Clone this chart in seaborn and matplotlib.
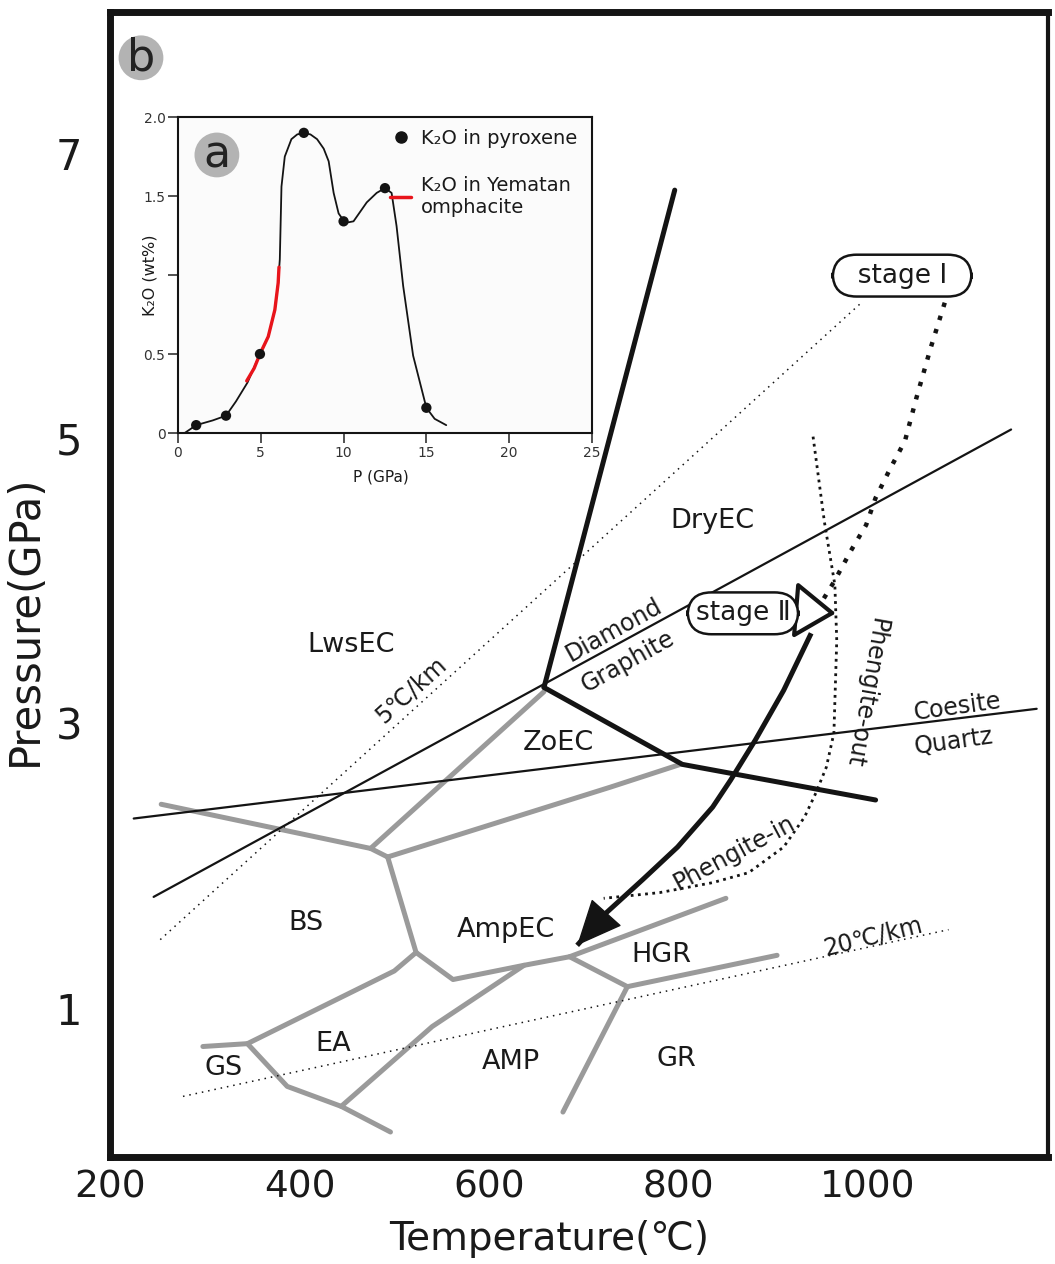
import matplotlib
matplotlib.use("Agg")
import matplotlib.pyplot as plt
import seaborn as sns
from matplotlib.lines import Line2D

# ---------------- inset (a): K2O in pyroxene vs pressure ----------------
dot_p = [1.1, 2.9, 4.95, 7.6, 10.0, 12.5, 15.0]
dot_k2o = [0.05, 0.11, 0.50, 1.90, 1.34, 1.55, 0.16]

curve_p = [0.4, 1.1, 2.1, 2.9, 3.5, 4.2, 4.95, 5.45, 5.85, 6.05, 6.15, 6.25, 6.45,
           6.85, 7.2, 7.6, 8.0, 8.4, 8.8, 9.1, 9.4, 9.7, 10.1, 10.6, 11.0, 11.4, 12.0,
           12.5, 12.9, 13.2, 13.6, 14.2, 15.0, 15.5, 16.2]
curve_k2o = [0.0, 0.05, 0.08, 0.11, 0.20, 0.32, 0.50, 0.61, 0.78, 0.95, 1.10, 1.56, 1.75,
             1.86, 1.89, 1.90, 1.89, 1.86, 1.80, 1.72, 1.52, 1.39, 1.33, 1.34, 1.40, 1.46, 1.52,
             1.55, 1.52, 1.31, 0.93, 0.49, 0.16, 0.09, 0.05]

red_p = [4.15, 4.6, 4.95, 5.45, 5.85, 6.05, 6.1]
red_k2o = [0.33, 0.41, 0.50, 0.61, 0.78, 0.95, 1.05]

# ---------------- main (b): P-T boundaries (T in C, P in GPa) ----------------
coesite_T = [225, 1178]
coesite_P = [2.33, 3.10]
diamond_T = [246, 1151]
diamond_P = [1.78, 5.06]

thick_up_T = [658, 796]
thick_up_P = [3.25, 6.74]
thick_down_T = [658, 804, 1008]
thick_down_P = [3.25, 2.71, 2.46]

# facies boundaries (gray)
bs_top_T = [254, 475, 493]
bs_top_P = [2.43, 2.12, 2.06]
lws_zo_T = [475, 658]
lws_zo_P = [2.12, 3.22]
zo_amp_T = [493, 728, 802]
zo_amp_P = [2.06, 2.55, 2.71]
bs_amp_T = [493, 523]
bs_amp_P = [2.06, 1.39]
bs_ea_T = [523, 500, 345, 298]
bs_ea_P = [1.39, 1.26, 0.75, 0.73]
ampec_low_T = [523, 562, 637, 685, 850]
ampec_low_P = [1.39, 1.20, 1.30, 1.36, 1.77]
gs_low_T = [345, 387, 444, 496]
gs_low_P = [0.75, 0.45, 0.31, 0.13]
ea_amp_T = [637, 540, 444]
ea_amp_P = [1.30, 0.87, 0.31]
hgr_low_T = [685, 746, 904]
hgr_low_P = [1.36, 1.15, 1.37]
amp_gr_T = [746, 678]
amp_gr_P = [1.15, 0.27]

# geotherms and phengite curve (dotted)
geo5_T = [253, 993]
geo5_P = [1.48, 5.95]
geo20_T = [277, 1085]
geo20_P = [0.38, 1.55]
phengite_T = [942, 954, 965, 967, 964, 956, 945, 933, 911, 874, 836, 780, 721]
phengite_P = [5.01, 4.41, 3.97, 3.58, 2.93, 2.69, 2.51, 2.34, 2.13, 1.95, 1.88, 1.81, 1.77]

# P-T path
stage1_T = [1081, 1066, 1051, 1039, 1023, 1008, 998, 982, 964, 952]
stage1_P = [5.95, 5.63, 5.28, 4.98, 4.78, 4.58, 4.39, 4.21, 3.99, 3.86]
retro_T = [940, 911, 881, 855, 836, 799, 762, 724, 693]
retro_P = [3.63, 3.23, 2.88, 2.60, 2.41, 2.13, 1.90, 1.67, 1.44]
open_head_T = [929, 966]
open_head_P = [3.79, 3.77]

# labels
region_names = ["DryEC", "LwsEC", "ZoEC", "BS", "AmpEC", "HGR", "EA", "GS", "AMP", "GR"]
region_T = [836, 454, 673, 407, 618, 782, 436, 320, 623, 798]
region_P = [4.42, 3.55, 2.86, 1.60, 1.55, 1.37, 0.75, 0.58, 0.62, 0.64]

line_names = ["Diamond", "Graphite", "Coesite", "Quartz", "5℃/km", "20℃/km",
              "Phengite-out", "Phengite-in"]
line_T = [732, 746, 1094, 1090, 517, 1005, 997, 859]
line_P = [3.65, 3.43, 3.11, 2.87, 3.23, 1.50, 3.21, 2.09]
line_rot = [29, 29, 8, 8, 42, 14, -100, 28]

stage_names = ["  stage Ⅰ  ", "stage Ⅱ"]
stage_T = [1036, 868]
stage_P = [6.14, 3.77]

sns.set_theme(style="white")
plt.rcParams["font.family"] = ["DejaVu Sans", "Noto Sans CJK SC"]
plt.rcParams["text.color"] = "#1a1a1a"
plt.rcParams["axes.labelcolor"] = "#1a1a1a"
plt.rcParams["xtick.color"] = "#1a1a1a"
plt.rcParams["ytick.color"] = "#1a1a1a"

fig = plt.figure(figsize=(10.55, 12.64), dpi=100)
ax = fig.add_axes([0.1043, 0.0847, 0.8891, 0.9058])

GRAY = "#9a9a9a"
INK = "#141414"

gray_lines = [(bs_top_T, bs_top_P), (lws_zo_T, lws_zo_P), (zo_amp_T, zo_amp_P),
              (bs_amp_T, bs_amp_P), (bs_ea_T, bs_ea_P), (ampec_low_T, ampec_low_P),
              (gs_low_T, gs_low_P), (ea_amp_T, ea_amp_P), (hgr_low_T, hgr_low_P),
              (amp_gr_T, amp_gr_P)]
for T, P in gray_lines:
    ax.plot(T, P, color=GRAY, lw=3.6, solid_joinstyle="round", zorder=2)

ax.plot(coesite_T, coesite_P, color=INK, lw=1.6, zorder=3)
ax.plot(diamond_T, diamond_P, color=INK, lw=1.6, zorder=3)
ax.plot(thick_up_T, thick_up_P, color=INK, lw=3.6, zorder=3)
ax.plot(thick_down_T, thick_down_P, color=INK, lw=3.6, solid_joinstyle="round", zorder=3)

ax.plot(geo5_T, geo5_P, color=INK, lw=1.1, ls=(0, (1, 3.2)), zorder=2)
ax.plot(geo20_T, geo20_P, color=INK, lw=1.1, ls=(0, (1, 3.2)), zorder=2)
ax.plot(phengite_T, phengite_P, color=INK, lw=2.0, ls=(0, (1, 1.6)), zorder=3)
ax.plot(stage1_T, stage1_P, color=INK, lw=3.2, ls=(0, (1, 2.1)), zorder=4)

# retrograde path with filled head, open head at stage II
ax.plot(retro_T, retro_P, color=INK, lw=3.6, solid_capstyle="butt", zorder=4)
ax.annotate("", xy=(retro_T[-1], retro_P[-1]), xytext=(retro_T[-2], retro_P[-2]),
            arrowprops=dict(arrowstyle="-|>,head_length=1.5,head_width=0.67",
                            mutation_scale=20, fc=INK, ec=INK, lw=1,
                            shrinkA=0, shrinkB=0), zorder=5)
ax.annotate("", xy=(open_head_T[1], open_head_P[1]), xytext=(open_head_T[0], open_head_P[0]),
            arrowprops=dict(arrowstyle="-|>,head_length=1.3,head_width=0.9",
                            mutation_scale=20, fc="white", ec=INK, lw=3,
                            shrinkA=0, shrinkB=0), zorder=6)

for name, t, p in zip(region_names, region_T, region_P):
    ax.text(t, p, name, fontsize=19.5, ha="center", va="center", zorder=6)

for name, t, p, r in zip(line_names, line_T, line_P, line_rot):
    ax.text(t, p, name, fontsize=17, ha="center", va="center", rotation=r,
            rotation_mode="anchor", zorder=6)

for name, t, p in zip(stage_names, stage_T, stage_P):
    ax.text(t, p, name, fontsize=19, ha="center", va="center", zorder=7,
            bbox=dict(boxstyle="round,pad=0.3,rounding_size=0.9", fc="white",
                      ec=INK, lw=1.8))

ax.text(0.033, 0.960, "b", transform=ax.transAxes, fontsize=32, ha="center",
        va="center", color="#222222", zorder=8,
        bbox=dict(boxstyle="circle,pad=0.02", fc="#b3b3b3", ec="none"))

ax.set_xlim(200, 1190)
ax.set_ylim(-0.045, 7.99)
ax.set_xticks([200, 400, 600, 800, 1000])
ax.set_yticks(range(1, 8))
ax.set_yticklabels(["1", "", "3", "", "5", "", "7"])
ax.tick_params(direction="in", length=11, width=1.2, colors="#1a1a1a")
ax.tick_params(axis="y", labelsize=30, pad=20)
ax.tick_params(axis="x", labelsize=27, pad=9)
for side, s in ax.spines.items():
    s.set_visible(True)
    s.set_color(INK)
    s.set_linewidth(3 if side == "right" else 5)

ax.set_xlabel("Temperature(℃)", fontsize=28)
ax.set_ylabel("Pressure(GPa)", fontsize=30)
ax.xaxis.set_label_coords(0.468, -0.055)
ax.yaxis.set_label_coords(-0.068, 0.469)

# ---------------- inset ----------------
ax_in = fig.add_axes([0.1687, 0.6574, 0.3924, 0.25])
ax_in.set_facecolor("#fbfbfb")
sns.lineplot(x=curve_p, y=curve_k2o, sort=False, estimator=None, color=INK, lw=1.3, ax=ax_in)
sns.lineplot(x=red_p, y=red_k2o, sort=False, estimator=None, color="#e8141b", lw=2.4, ax=ax_in)
sns.scatterplot(x=dot_p, y=dot_k2o, color=INK, s=55, edgecolor="none", zorder=5, ax=ax_in)

ax_in.set_xlim(0, 25)
ax_in.set_ylim(0, 2)
ax_in.set_xticks([0, 5, 10, 15, 20, 25])
ax_in.set_yticks([0, 0.5, 1.0, 1.5, 2.0])
ax_in.set_yticklabels(["0", "0.5", "", "1.5", "2.0"])
ax_in.tick_params(direction="out", length=7, width=1.2, labelsize=10, pad=2,
                  colors="#333333", left=True, bottom=True)
for s in ax_in.spines.values():
    s.set_visible(True)
    s.set_color(INK)
    s.set_linewidth(1.5)
ax_in.set_xlabel("P (GPa)", fontsize=11)
ax_in.set_ylabel("K₂O (wt%)", fontsize=11.5)
ax_in.xaxis.set_label_coords(0.49, -0.115)
ax_in.yaxis.set_label_coords(-0.05, 0.5)

handles = [Line2D([], [], marker="o", ls="none", color=INK, markersize=8),
           Line2D([], [], color="#e8141b", lw=2.5)]
ax_in.legend(handles, ["K₂O in pyroxene", "K₂O in Yematan\nomphacite"],
             loc="upper left", bbox_to_anchor=(0.484, 1.0), frameon=False,
             fontsize=14, handlelength=1.1, handletextpad=0.5,
             labelspacing=1.45, borderaxespad=0.2)

ax_in.text(0.094, 0.880, "a", transform=ax_in.transAxes, fontsize=32, ha="center",
           va="center", color="#222222",
           bbox=dict(boxstyle="circle,pad=0.02", fc="#b3b3b3", ec="none"))

fig.savefig("out.png", dpi=100)
